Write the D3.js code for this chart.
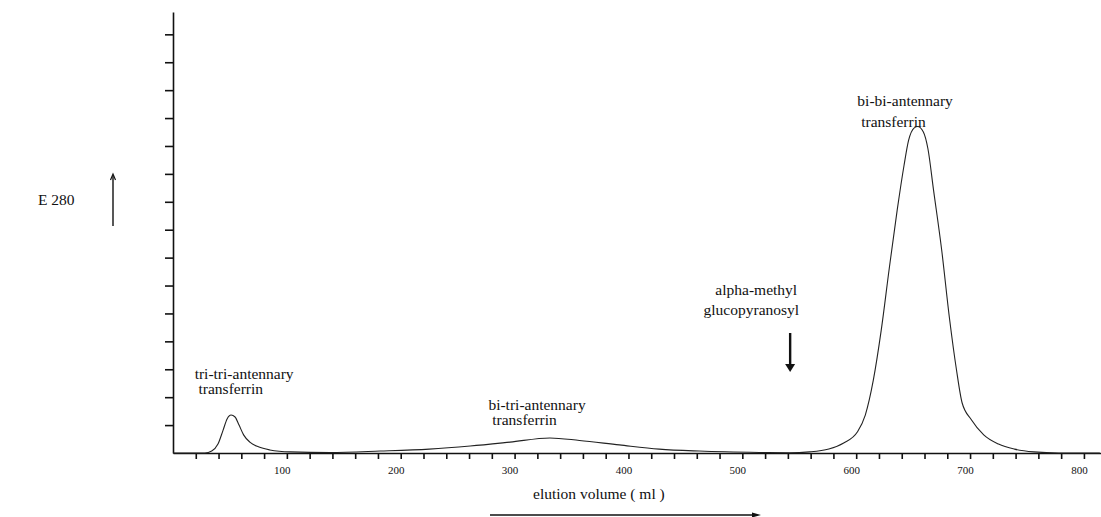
<!DOCTYPE html>
<html>
<head>
<meta charset="utf-8">
<script src="https://cdn.jsdelivr.net/npm/d3@7"></script>
<style>
  html, body { margin: 0; padding: 0; background: #fff; }
  svg { display: block; }
</style>
</head>
<body>
<svg id="chart" width="1101" height="517"></svg>
<script>
// Elution volume (ml) and absorbance E280 (arbitrary units, 1 unit = 1 y tick)
const volume = [0, 20, 28, 34, 39.5, 44, 47.5, 51, 54.5, 58, 62, 67.5, 75, 85, 103,
  138, 182, 225, 261, 296, 331, 357, 392, 427, 462, 515,
  541, 559, 576, 589, 601, 608, 615, 622, 629, 636, 642, 646, 651, 654, 659, 663,
  668, 675, 682, 688, 693, 701, 712, 725, 739, 756, 778, 814];
const absorbance = [0, 0, 0, 0.07, 0.32, 0.82, 1.22, 1.36, 1.29, 1.0, 0.65, 0.39, 0.22, 0.11, 0.04,
  0.02, 0.07, 0.14, 0.25, 0.39, 0.54, 0.45, 0.29, 0.14, 0.07, 0.02,
  0.01, 0.04, 0.14, 0.36, 0.75, 1.36, 2.6, 4.4, 6.6, 8.7, 10.3, 11.2, 11.65, 11.7, 11.5, 10.9,
  9.4, 7.3, 4.8, 3.0, 1.8, 1.2, 0.65, 0.32, 0.14, 0.04, 0, 0];

const xTickValues = d3.range(20, 801, 20);
const xTickLabels = [100, 200, 300, 400, 500, 600, 700, 800];
const yTickValues = d3.range(1, 16);

const peakLabels = [
  { lines: ["tri-tri-antennary", " transferrin"], v: 19, a: 2.65, gap: 15 },
  { lines: ["bi-tri-antennary", " transferrin"], v: 277, a: 1.55, gap: 15 },
  { lines: ["bi-bi-antennary", " transferrin"], v: 601, a: 12.45, gap: 21 }
];

const SERIF = "'Liberation Serif', 'Times New Roman', Times, serif";
const svg = d3.select("#chart");
const x = d3.scaleLinear().domain([0, 815]).range([173, 1101]);
const y = d3.scaleLinear().domain([0, 15.8]).range([453, 12]);

// X axis
const xAxis = d3.axisBottom(x)
  .tickValues(xTickValues)
  .tickSize(6)
  .tickSizeOuter(0)
  .tickPadding(7)
  .tickFormat(d => xTickLabels.includes(d) ? String(d) : "");
const gx = svg.append("g").attr("transform", `translate(0,${y(0)})`).call(xAxis);
gx.attr("font-family", SERIF);
gx.select(".domain").attr("stroke", "#111").attr("stroke-width", 1.6);
gx.selectAll(".tick line").attr("stroke", "#111").attr("stroke-width", 1.6);
gx.selectAll(".tick text").attr("font-size", 11).attr("dx", -5)
  .attr("font-family", SERIF).attr("fill", "#111");

// Y axis
const yAxis = d3.axisLeft(y)
  .tickValues(yTickValues)
  .tickSize(8)
  .tickSizeOuter(0)
  .tickFormat("");
const gy = svg.append("g").attr("transform", `translate(${x(0)},0)`).call(yAxis);
gy.select(".domain").attr("stroke", "#111").attr("stroke-width", 1.6);
gy.selectAll(".tick line").attr("stroke", "#111").attr("stroke-width", 1.6);

// Curve
const data = volume.map((v, i) => ({ v, a: absorbance[i] }));
const line = d3.line().x(d => x(d.v)).y(d => y(d.a)).curve(d3.curveMonotoneX);
svg.append("path").datum(data)
  .attr("d", line)
  .attr("fill", "none")
  .attr("stroke", "#222")
  .attr("stroke-width", 1.1);

function txt(xp, yp, size) {
  return svg.append("text").attr("x", xp).attr("y", yp)
    .attr("font-family", SERIF).attr("font-size", size).attr("fill", "#111");
}

// Peak labels
peakLabels.forEach(p => {
  const t = txt(x(p.v), y(p.a), 15.5);
  p.lines.forEach((ln, i) => {
    t.append("tspan").attr("x", x(p.v)).attr("dy", i === 0 ? 0 : p.gap)
      .attr("xml:space", "preserve").text(ln);
  });
});

// Alpha-methyl glucopyranosyl label + arrow
const amV = 542;
const am = txt(0, 0, 15.5).attr("text-anchor", "end");
am.append("tspan").attr("x", x(amV) + 7).attr("y", 295).text("alpha-methyl");
am.append("tspan").attr("x", x(amV) + 9).attr("y", 315).text("glucopyranosyl");

svg.append("line")
  .attr("x1", x(amV)).attr("x2", x(amV))
  .attr("y1", 333).attr("y2", 366)
  .attr("stroke", "#111").attr("stroke-width", 2.4);
svg.append("path")
  .attr("d", `M${x(amV) - 5},364 L${x(amV) + 5},364 L${x(amV)},372 Z`)
  .attr("fill", "#111");

// Y label and arrow
txt(38, 205, 15.5).text("E 280");
svg.append("line")
  .attr("x1", 113).attr("x2", 113).attr("y1", 226).attr("y2", 176)
  .attr("stroke", "#111").attr("stroke-width", 1.4);
svg.append("path")
  .attr("d", "M110.5,180 L113,174 L115.5,180")
  .attr("fill", "none").attr("stroke", "#111").attr("stroke-width", 1.2);

// X label and arrow
txt(533, 499, 15.5).text("elution volume ( ml )");
svg.append("line")
  .attr("x1", 490).attr("x2", 756).attr("y1", 515).attr("y2", 515)
  .attr("stroke", "#111").attr("stroke-width", 1.6);
svg.append("path")
  .attr("d", "M752,512.5 L761,515 L752,517.5 Z")
  .attr("fill", "#111");
</script>
</body>
</html>
